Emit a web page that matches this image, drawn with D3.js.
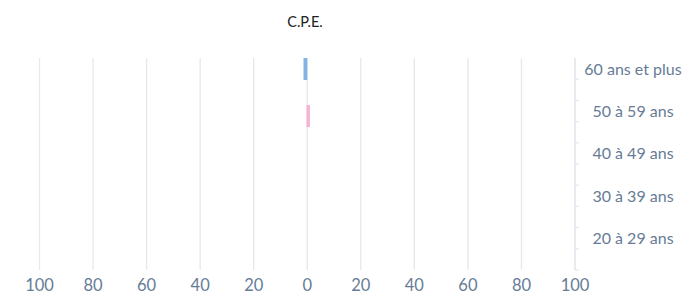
<!DOCTYPE html>
<html>
<head>
<meta charset="utf-8">
<script src="https://cdn.jsdelivr.net/npm/d3@7"></script>
<style>
  body { margin: 0; background: #fff; }
  svg { display: block; font-family: "Lato", "Open Sans", sans-serif; }
</style>
</head>
<body>
<svg id="chart" width="684" height="298"></svg>
<script>
// age groups, top to bottom
var ages = ["60 ans et plus", "50 à 59 ans", "40 à 49 ans", "30 à 39 ans", "20 à 29 ans"]
// hommes (left, blue) and femmes (right, pink)
var hommes = [1.4, 0, 0, 0, 0]
var femmes = [0, 1.3, 0, 0, 0]
var xTicks = [-100, -80, -60, -40, -20, 0, 20, 40, 60, 80, 100]
var title = "C.P.E."

var svg = d3.select("#chart")

var x = d3.scaleLinear().domain([-100, 100]).range([39.5, 575])
var y = d3.scaleBand().domain(ages).range([58, 270])

// gridlines
svg.append("g")
    .selectAll("line")
    .data(xTicks)
    .enter()
    .append("line")
    .attr("x1", d => x(d))
    .attr("x2", d => x(d))
    .attr("y1", 58)
    .attr("y2", 270)
    .style("stroke", "#e4e8ef")
    .style("stroke-width", 1.3)

// x tick labels
svg.append("g")
    .selectAll("text")
    .data(xTicks)
    .enter()
    .append("text")
    .attr("x", d => x(d))
    .attr("y", 291)
    .text(d => Math.abs(d))
    .style("text-anchor", "middle")
    .style("font-size", "16.5px")
    .style("fill", "#667c96")

// bars
var barH = y.bandwidth() * 0.52
svg.append("g")
    .selectAll("rect")
    .data(ages.map((a, i) => ({age: a, v: hommes[i]})).filter(d => d.v > 0))
    .enter()
    .append("rect")
    .attr("x", d => x(-d.v))
    .attr("width", d => x(0) - x(-d.v))
    .attr("y", d => y(d.age))
    .attr("height", barH)
    .style("fill", "#80b3e6")

svg.append("g")
    .selectAll("rect")
    .data(ages.map((a, i) => ({age: a, v: femmes[i]})).filter(d => d.v > 0))
    .enter()
    .append("rect")
    .attr("x", d => x(0) - 0.8)
    .attr("width", d => x(d.v) - x(0))
    .attr("y", d => y(d.age) + 4.6)
    .attr("height", barH)
    .style("fill", "#f5b4d5")

// right axis
var yAxis = svg.append("g").attr("transform", "translate(575,0)")
yAxis.append("line")
    .attr("y1", 58).attr("y2", 270)
    .style("stroke", "#e4e8ef").style("stroke-width", 1.3)
var tickYs = []
ages.forEach(a => { tickYs.push(y(a)); tickYs.push(y(a) + y.bandwidth() / 2) })
tickYs.push(y.range()[1])
yAxis.selectAll("line.tick")
    .data(tickYs.slice(1))
    .enter()
    .append("line")
    .attr("class", "tick")
    .attr("x1", 0).attr("x2", 4)
    .attr("y1", d => d).attr("y2", d => d)
    .style("stroke", "#e4e8ef").style("stroke-width", 1.3)
yAxis.selectAll("text")
    .data(ages)
    .enter()
    .append("text")
    .attr("x", 58)
    .attr("y", d => y(d) + 11)
    .attr("dy", "0.35em")
    .text(d => d)
    .style("text-anchor", "middle")
    .style("font-size", "16px")
    .style("fill", "#667c96")

// title
svg.append("text")
    .attr("x", 305)
    .attr("y", 27)
    .text(title)
    .style("text-anchor", "middle")
    .style("font-size", "14.5px")
    .style("fill", "#222")
</script>
</body>
</html>
